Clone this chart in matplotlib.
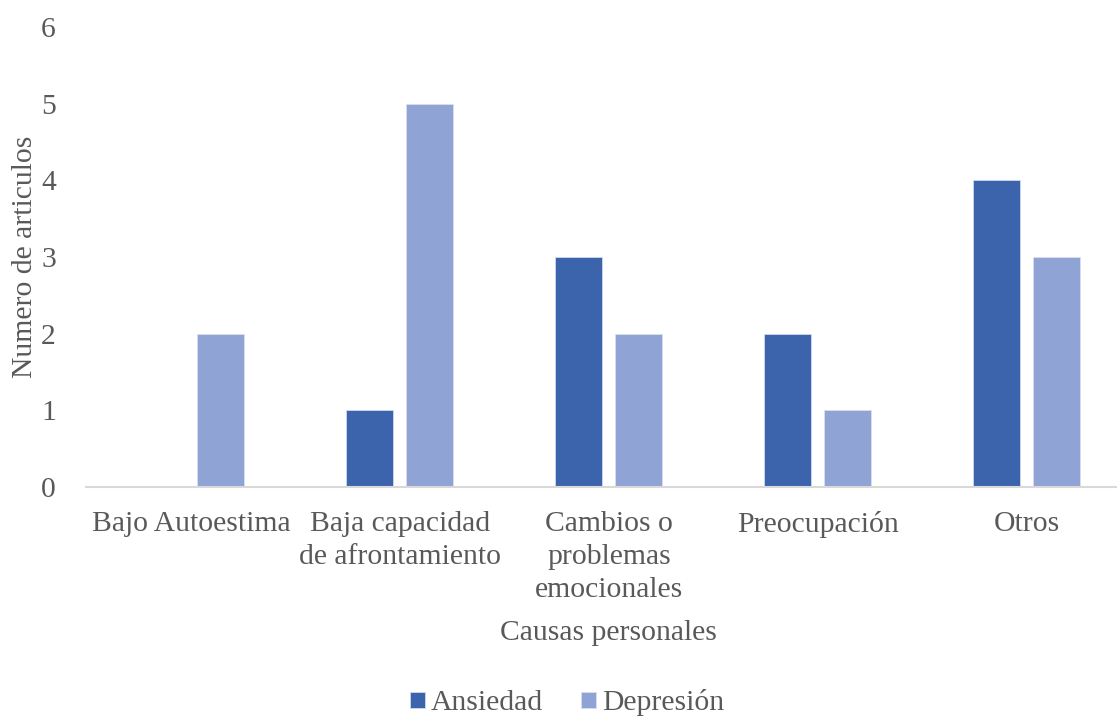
import matplotlib.pyplot as plt
import numpy as np

plt.rcParams['font.family'] = ['Liberation Serif', 'DejaVu Serif']

causas = ['Bajo Autoestima', 'Baja capacidad\nde afrontamiento',
          'Cambios o\nproblemas\nemocionales', 'Preocupación', 'Otros']
ansiedad = [0, 1, 3, 2, 4]
depresion = [2, 5, 2, 1, 3]
series = ['Ansiedad', 'Depresión']

gris = '#595959'
c_ans = '#3C64AD'
c_dep = '#8FA3D5'
fs = 21.3

fig = plt.figure(figsize=(11.17, 7.18), dpi=100)
ax = fig.add_axes([0.0774, 0.3217, 0.9355, 0.6407])

x = np.arange(len(causas))
w = 0.225
ax.bar(x - 0.1435, ansiedad, w, color=c_ans, edgecolor='#D0D9EE', linewidth=0.6, label=series[0])
ax.bar(x + 0.1435, depresion, w, color=c_dep, edgecolor='#D8DFF0', linewidth=0.6, label=series[1])

ax.set_xlim(-0.5, len(causas) - 0.5)
ax.set_ylim(0, 6)
ax.set_yticks(range(7))
ax.set_xticks(x)
ax.set_xticklabels(causas, linespacing=1.36)
ax.tick_params(length=0, labelsize=fs, labelcolor=gris)
ax.tick_params(axis='y', pad=22)
ax.tick_params(axis='x', pad=17)

for s in ['top', 'right', 'left']:
    ax.spines[s].set_visible(False)
ax.spines['bottom'].set_color('#D9D9D9')
ax.spines['bottom'].set_linewidth(1.5)

ax.set_xlabel('Causas personales', fontsize=fs, color=gris, labelpad=12)
ax.set_ylabel('Numero de articulos', fontsize=fs, color=gris, labelpad=2)

fig.legend(loc='center', bbox_to_anchor=(567 / 1117, 1 - 703 / 718), ncol=2,
           frameon=False, fontsize=fs, labelcolor=gris, handlelength=0.5,
           handleheight=0.5, handletextpad=0.2, columnspacing=1.3)

fig.savefig('out.png', dpi=100)
